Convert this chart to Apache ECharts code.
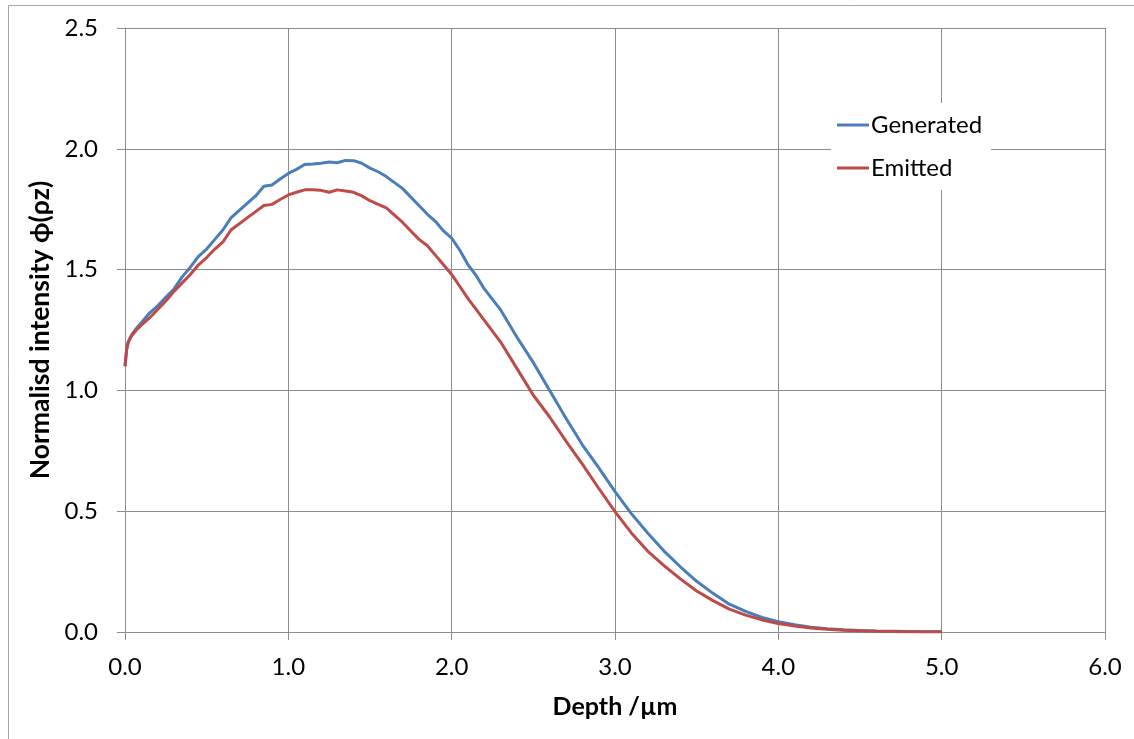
<!DOCTYPE html>
<html>
<head>
<meta charset="utf-8">
<script src="https://cdn.jsdelivr.net/npm/echarts@6/dist/echarts.min.js"></script>
<style>
html,body{margin:0;padding:0;background:#fff;}
#chart{width:1134px;height:739px;}
</style>
</head>
<body>
<div id="chart"></div>
<script>
const depth = [0.0,0.01,0.02,0.04,0.07,0.1,0.15,0.2,0.25,0.3,0.35,0.4,0.45,0.5,0.55,0.6,0.65,0.7,0.75,0.8,0.85,0.9,0.95,1.0,1.05,1.1,1.15,1.2,1.25,1.3,1.35,1.4,1.45,1.5,1.55,1.6,1.65,1.7,1.75,1.8,1.85,1.9,1.95,2.0,2.05,2.1,2.15,2.2,2.3,2.4,2.5,2.6,2.7,2.8,2.9,3.0,3.1,3.2,3.3,3.4,3.5,3.6,3.7,3.8,3.9,4.0,4.1,4.2,4.3,4.4,4.5,4.6,4.7,4.8,4.9,5.0];
const generated = [1.10,1.17,1.20,1.23,1.257,1.28,1.32,1.35,1.385,1.42,1.47,1.51,1.555,1.585,1.625,1.665,1.715,1.745,1.775,1.805,1.845,1.850,1.875,1.898,1.915,1.935,1.937,1.940,1.945,1.942,1.952,1.951,1.940,1.920,1.905,1.885,1.860,1.835,1.800,1.765,1.730,1.700,1.660,1.630,1.580,1.520,1.475,1.420,1.333,1.220,1.115,1.000,0.885,0.775,0.680,0.581,0.490,0.410,0.335,0.270,0.210,0.160,0.115,0.085,0.060,0.043,0.030,0.020,0.013,0.009,0.006,0.004,0.003,0.002,0.001,0.001];
const emitted = [1.10,1.17,1.20,1.225,1.25,1.27,1.30,1.335,1.37,1.41,1.445,1.48,1.52,1.55,1.585,1.615,1.665,1.69,1.715,1.74,1.765,1.77,1.79,1.809,1.82,1.83,1.83,1.828,1.82,1.83,1.825,1.82,1.805,1.785,1.77,1.755,1.725,1.695,1.66,1.625,1.60,1.56,1.52,1.48,1.43,1.38,1.335,1.29,1.20,1.09,0.98,0.89,0.79,0.695,0.595,0.498,0.41,0.335,0.275,0.22,0.17,0.13,0.095,0.07,0.05,0.035,0.025,0.017,0.011,0.007,0.005,0.003,0.002,0.001,0.001,0.001];
const seriesNames = ['Generated','Emitted'];
const xTitle = 'Depth /µm';
const yTitle = 'Normalisd intensity ϕ(ρz)';

const FONT = 'Lato, "Noto Sans", sans-serif';
const chart = echarts.init(document.getElementById('chart'), null, {renderer:'canvas'});
const pairs = arr => depth.map((d,i)=>[d, arr[i]]);
const gridColor = '#8c8c8c';
chart.setOption({
  animation:false,
  backgroundColor:'#fff',
  graphic:[{type:'rect', left:6, top:3, shape:{width:1200, height:800}, style:{fill:'none', stroke:'#a6a6a6', lineWidth:1}, z:-1}],
  grid:{left:125, top:28, right:29, bottom:107, containLabel:false},
  legend:{
    orient:'vertical', left:831, top:103,
    padding:[9,9,9,6],
    backgroundColor:'#fff',
    icon:'rect',
    itemWidth:32, itemHeight:3, itemGap:17,
    textStyle:{fontFamily:FONT, fontSize:24, color:'#000', lineHeight:26, padding:[0,0,0,-3]},
    data:seriesNames
  },
  xAxis:{
    type:'value', min:0, max:6, interval:1,
    name:xTitle, nameLocation:'middle', nameGap:62,
    nameTextStyle:{fontFamily:FONT, fontSize:25, fontWeight:'bold', color:'#000'},
    axisLine:{show:true, onZero:false, lineStyle:{color:gridColor, width:1}},
    axisTick:{show:true, length:8, lineStyle:{color:gridColor}},
    axisLabel:{fontFamily:FONT, fontSize:24, color:'#000', margin:23, formatter:v=>v.toFixed(1)},
    splitLine:{show:true, lineStyle:{color:gridColor, width:1}}
  },
  yAxis:{
    type:'value', min:0, max:2.5, interval:0.5,
    name:yTitle, nameLocation:'middle', nameGap:61,
    nameTextStyle:{fontFamily:FONT, fontSize:26.5, fontWeight:'bold', color:'#000'},
    axisLine:{show:true, lineStyle:{color:gridColor, width:1}},
    axisTick:{show:true, length:8, lineStyle:{color:gridColor}},
    axisLabel:{fontFamily:FONT, fontSize:24, color:'#000', margin:27, formatter:v=>v.toFixed(1)},
    splitLine:{show:true, lineStyle:{color:gridColor, width:1}}
  },
  series:[
    {name:seriesNames[0], type:'line', data:pairs(generated), symbol:'none', showSymbol:false,
     lineStyle:{color:'#4a7ebb', width:3}, itemStyle:{color:'#4a7ebb'}, z:3},
    {name:seriesNames[1], type:'line', data:pairs(emitted), symbol:'none', showSymbol:false,
     lineStyle:{color:'#be4b48', width:3}, itemStyle:{color:'#be4b48'}, z:4}
  ]
});
</script>
</body>
</html>
